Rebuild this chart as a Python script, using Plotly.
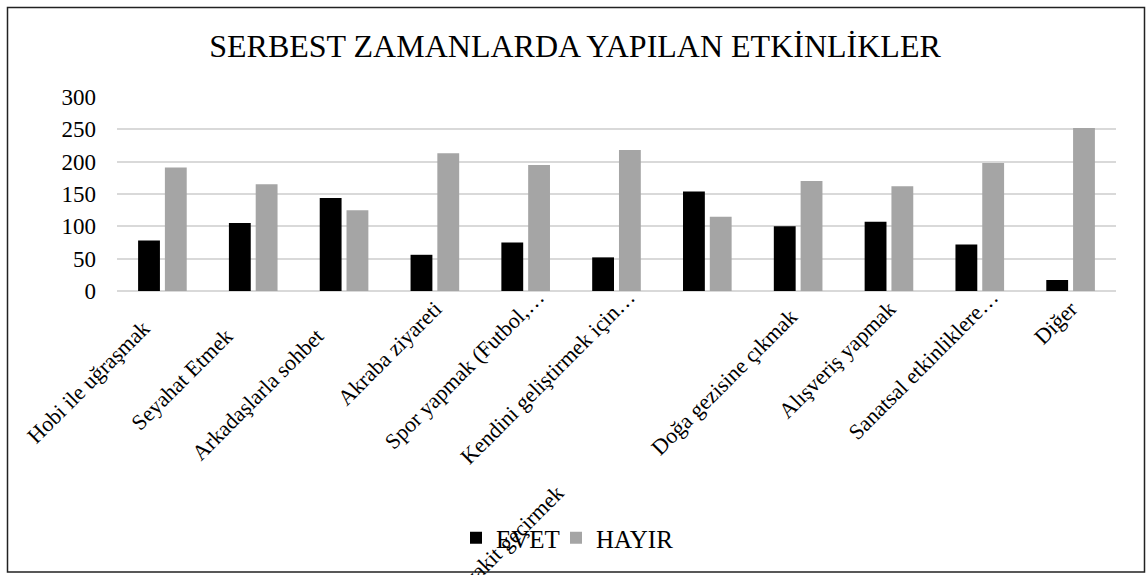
import plotly.graph_objects as go

categories = [
    "Hobi ile uğraşmak",
    "Seyahat Etmek",
    "Arkadaşlarla sohbet",
    "Akraba ziyareti",
    "Spor yapmak (Futbol,…",
    "Kendini geliştirmek için…",
    "Evde vakit geçirmek",
    "Doğa gezisine çıkmak",
    "Alışveriş yapmak",
    "Sanatsal etkinliklere…",
    "Diğer",
]
evet = [78, 105, 144, 56, 75, 52, 154, 100, 107, 72, 17]
hayir = [191, 165, 125, 213, 195, 218, 115, 170, 162, 198, 252]
y_ticks = [0, 50, 100, 150, 200, 250, 300]
# trailing blanks carried by the original category labels (they shift the rotated text)
label_pad = [8, 10, 10, 3, 0, 0, 0, 5, 3, 0, 3]

FONT = "Liberation Serif, Times New Roman, serif"
W, H = 1146, 575
L, R, T, B = 117, 30, 97, 284
pw, ph = W - L - R, H - T - B

def px_to_paper_x(px):
    return (px - L) / pw

def px_to_paper_y(py):
    return (H - B - py) / ph

# the 7th label is rendered displaced in the original; it is drawn separately
ticktext = ["" if i == 6 else c + "\u00a0" * p
            for i, (c, p) in enumerate(zip(categories, label_pad))]

fig = go.Figure()
fig.add_trace(go.Bar(name="EVET", x=categories, y=evet, marker_color="#000000",
                     marker_line_width=0, legend="legend"))
fig.add_trace(go.Bar(name="HAYIR", x=categories, y=hayir, marker_color="#A5A5A5",
                     marker_line_width=0, legend="legend2"))

legend_common = dict(orientation="h", xanchor="left",
                     y=px_to_paper_y(538), yanchor="middle",
                     font=dict(family=FONT, size=25, color="#000000"),
                     bgcolor="rgba(0,0,0,0)")

fig.update_layout(
    width=W, height=H,
    margin=dict(l=L, r=R, t=T, b=B, autoexpand=False),
    paper_bgcolor="white", plot_bgcolor="white",
    barmode="group", bargap=0.41, bargroupgap=0.185,
    font=dict(family=FONT, size=23, color="#000000"),
    title=dict(text="SERBEST ZAMANLARDA YAPILAN ETKİNLİKLER",
               font=dict(family=FONT, size=32, color="#000000"),
               x=px_to_paper_x(575), xref="paper", xanchor="center",
               y=1 - 46 / H, yanchor="middle"),
    showlegend=True,
    legend=dict(x=px_to_paper_x(456), **legend_common),
    legend2=dict(x=px_to_paper_x(556), **legend_common),
    xaxis=dict(type="category", tickmode="array", tickvals=categories,
               ticktext=ticktext, tickangle=-45, showgrid=False,
               showline=False, ticks="", zeroline=False,
               ticklabelshift=12, ticklabelstandoff=-12,
               tickfont=dict(family=FONT, size=22, color="#000000")),
    yaxis=dict(range=[0, 300], tickmode="array", tickvals=y_ticks,
               showgrid=True, gridcolor="#D9D9D9", gridwidth=1.5,
               zeroline=True, zerolinecolor="#D9D9D9", zerolinewidth=1.5,
               showline=False, ticks="", ticklabelstandoff=20,
               tickfont=dict(family=FONT, size=23, color="#000000")),
)

# displaced 7th category label (as in the original chart)
fig.add_annotation(text=categories[6], x=categories[6], xref="x",
                   y=0, yref="paper", xshift=-212, yshift=-262,
                   textangle=-45, showarrow=False,
                   font=dict(family=FONT, size=22, color="#000000"),
                   xanchor="center", yanchor="middle")

# outer chart border
fig.add_shape(type="rect", xref="paper", yref="paper",
              x0=px_to_paper_x(7.5), x1=px_to_paper_x(1144.5),
              y0=px_to_paper_y(572), y1=px_to_paper_y(7.5),
              line=dict(color="#222222", width=1.5), fillcolor="rgba(0,0,0,0)",
              layer="above")

fig.write_html("out.html", config={"displayModeBar": False},
               post_script="document.body.style.margin='0';document.body.style.overflow='hidden';")
